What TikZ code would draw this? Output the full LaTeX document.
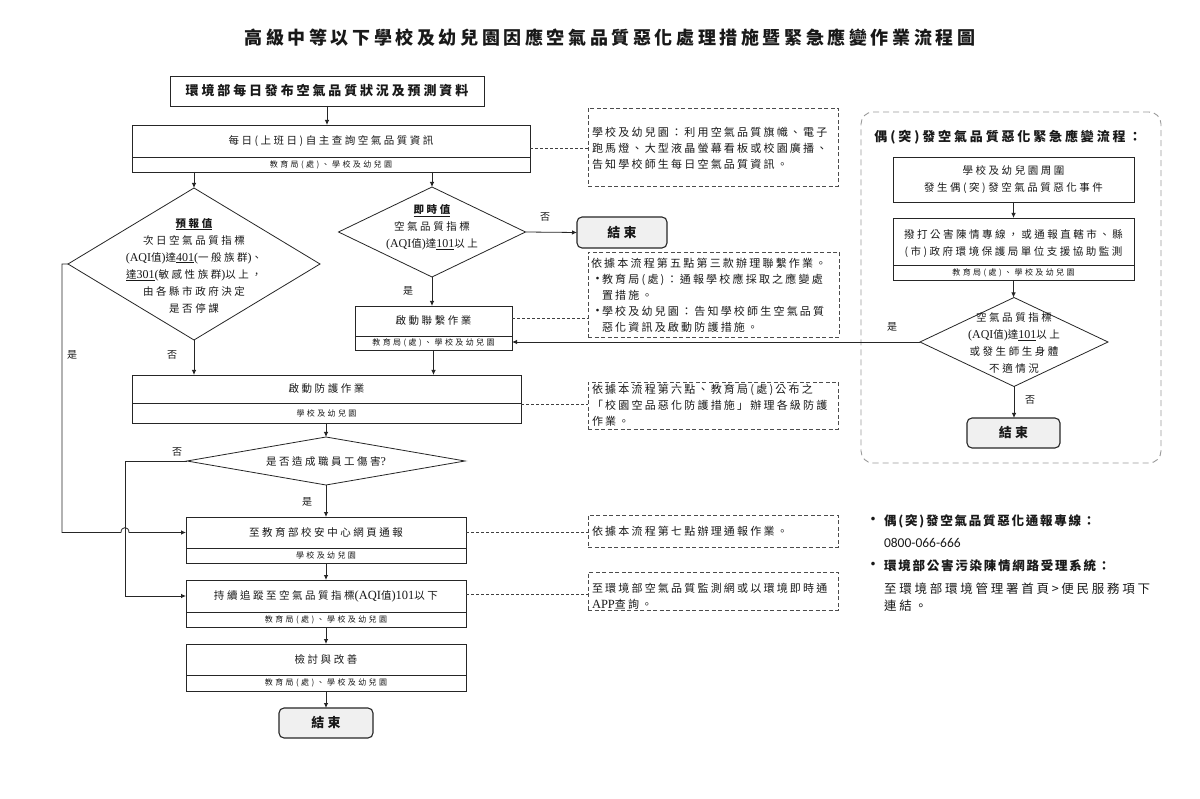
\documentclass[tikz,border=0pt]{standalone}
\usepackage{fontspec}
\setmainfont{Noto Sans CJK TC}
\newfontfamily\lsMain[LetterSpace=24]{Noto Sans CJK TC}
\newfontfamily\lsSub[LetterSpace=30]{Noto Sans CJK TC}
\newfontfamily\lsNote[LetterSpace=20]{Noto Sans CJK TC}
\newfontfamily\lsTitle[LetterSpace=20]{Noto Sans CJK TC}
\newfontfamily\lsInfo[LetterSpace=22]{Noto Sans CJK TC}
\newfontfamily\lsHead[LetterSpace=14]{Noto Sans CJK TC}
\newfontfamily\latinCal{Carlito}
\newfontfamily\tnr{Liberation Serif}
\usetikzlibrary{arrows.meta,shapes.geometric}
\newcommand\fMain{\lsMain\fontsize{10.5}{17}\selectfont}
\newcommand\fSub{\lsSub\fontsize{8}{10}\selectfont}
\newcommand\fNote{\lsNote\fontsize{11}{16}\selectfont}
\newcommand\fTitle{\lsTitle\bfseries\fontsize{18}{22}\selectfont}
\newcommand\fBig{\lsInfo\bfseries\fontsize{13}{16}\selectfont}
\newcommand\fHead{\lsHead\bfseries\fontsize{12.5}{16}\selectfont}
\newcommand\fInfo{\lsInfo\fontsize{12.5}{17}\selectfont}
\newcommand\fEnd{\lsMain\bfseries\fontsize{13}{16}\selectfont}
\newcommand\fLbl{\lsMain\fontsize{10}{12}\selectfont}
\newcommand\La[1]{{\tnr\fontsize{12}{17}\selectfont #1}}
\newcommand\Lb[1]{{\tnr\fontsize{12.5}{16}\selectfont #1}}
\tikzset{
  every node/.style={inner sep=0pt, outer sep=0pt, text=black!90},
  proc/.style={draw=black!85, line width=0.8pt, rectangle},
  dia/.style={draw=black!85, line width=0.8pt, diamond},
  endbox/.style={draw=black!85, line width=1.1pt, rounded corners=5pt, fill=gray!12, font=\fEnd},
  notebox/.style={draw=black!70, line width=0.7pt, dash pattern=on 4pt off 2.5pt},
  mt/.style={font=\fMain, align=center},
  st/.style={font=\fSub},
  nt/.style={font=\fNote, align=left, anchor=west},
  arr/.style={draw=black!85, line width=0.8pt, -{Latex[length=5pt,width=4.5pt]}},
  link/.style={draw=black!75, line width=0.7pt, dash pattern=on 3pt off 2pt},
  divl/.style={draw=black!85, line width=0.6pt},
  lbl/.style={font=\fLbl},
}
% name, left, top, right, bottom, divider y, main y, main text, sub text
\newcommand\PBox[9]{%
  \node[proc, minimum width={#4pt-#2pt}, minimum height={#5pt-#3pt}] (#1) at ({(#2+#4)/2},{(#3+#5)/2}) {};
  \draw[divl] (#2,#6) -- (#4,#6);
  \node[mt] (#1-m) at ({(#2+#4)/2},#7) {#8};
  \node[st] (#1-s) at ({(#2+#4)/2},{(#6+#5)/2}) {#9};
}
\begin{document}
\begin{tikzpicture}[x=1pt,y=-1pt]
\useasboundingbox (0,0) rectangle (1200,799);
\fill[white] (0,0) rectangle (1200,799);

\node[font=\fTitle] (title) at (610,38) {高級中等以下學校及幼兒園因應空氣品質惡化處理措施暨緊急應變作業流程圖};

% right panel frame
\node[draw=gray!80, line width=0.9pt, dash pattern=on 6pt off 4pt, rounded corners=12pt, minimum width=300pt, minimum height=351pt] (panel) at (1011,287.5) {};

% main flow
\node[proc, minimum width=314pt, minimum height=30pt, font=\fBig] (b1) at (327,91) {環境部每日發布空氣品質狀況及預測資料};
\PBox{b2}{132}{125}{530}{172}{157}{141}{每日(上班日)自主查詢空氣品質資訊}{教育局(處)、學校及幼兒園}

\node[dia, minimum width=252pt, minimum height=152pt] (ld) at (194,264) {};
\node[mt] (ldt) at (194,265.5) {{\bfseries\underline{預報值}}\\次日空氣品質指標\\\La{(AQI}值\La{)}達\underline{\La{401}}\La{(}一般族群\La{)}、\\\underline{達\La{301}}\La{(}敏感性族群\La{)}以上，\\由各縣市政府決定\\是否停課};

\node[dia, minimum width=187pt, minimum height=90pt] (md) at (432,232) {};
\node[mt] (mdt) at (432,227.5) {{\bfseries\underline{即時值}}\\空氣品質指標\\\La{(AQI}值\La{)}達\underline{\La{101}}以上};

\node[endbox, minimum width=90pt, minimum height=31pt] (e1) at (622,232.5) {結束};

\PBox{lian}{355}{306}{512}{350}{336}{321}{啟動聯繫作業}{教育局(處)、學校及幼兒園}
\PBox{prot}{132}{375}{521}{423}{403}{389}{啟動防護作業}{學校及幼兒園}

\node[dia, minimum width=278pt, minimum height=48pt] (d3) at (326,461) {};
\node[mt] (d3t) at (326,462) {是否造成職員工傷害\La{?}};

\PBox{rep}{186}{517}{466}{563}{548}{532.5}{至教育部校安中心網頁通報}{學校及幼兒園}
\PBox{track}{186}{580}{466}{627}{612}{596}{持續追蹤至空氣品質指標\Lb{(AQI}值\Lb{)101}以下}{教育局(處)、學校及幼兒園}
\PBox{rev}{186}{644}{466}{691}{675}{659.5}{檢討與改善}{教育局(處)、學校及幼兒園}
\node[endbox, minimum width=94pt, minimum height=30pt] (e2) at (326,723) {結束};

% notes
\node[notebox, minimum width=250pt, minimum height=78pt] (n1) at (713,147) {};
\node[nt] (n1t) at (592,148) {學校及幼兒園：利用空氣品質旗幟、電子\\跑馬燈、大型液晶螢幕看板或校園廣播、\\告知學校師生每日空氣品質資訊。};
\node[notebox, minimum width=251pt, minimum height=85pt] (n2) at (713.5,294.5) {};
\node[nt] (n2t) at (591,295) {依據本流程第五點第三款辦理聯繫作業。\\\makebox[11pt][l]{\fontsize{13}{16}\selectfont•}教育局(處)：通報學校應採取之應變處\\\hspace*{11pt}置措施。\\\makebox[11pt][l]{\fontsize{13}{16}\selectfont•}學校及幼兒園：告知學校師生空氣品質\\\hspace*{11pt}惡化資訊及啟動防護措施。};
\node[notebox, minimum width=250pt, minimum height=47pt] (n3) at (713,405.5) {};
\node[nt] (n3t) at (592,405) {依據本流程第六點、教育局(處)公布之\\「校園空品惡化防護措施」辦理各級防護\\作業。};
\node[notebox, minimum width=250pt, minimum height=32pt] (n4) at (713,531) {};
\node[nt] (n4t) at (592,531) {依據本流程第七點辦理通報作業。};
\node[notebox, minimum width=250pt, minimum height=38pt] (n5) at (713,591) {};
\node[nt] (n5t) at (592,596) {至環境部空氣品質監測網或以環境即時通\\\Lb{APP}查詢。};

% right panel contents
\node[font=\fBig] (rtitle) at (1008,137) {偶(突)發空氣品質惡化緊急應變流程：};
\node[proc, minimum width=241pt, minimum height=45pt] (r1) at (1013.5,179.5) {};
\node[mt] (r1t) at (1013.5,179.5) {學校及幼兒園周圍\\發生偶(突)發空氣品質惡化事件};
\PBox{r2}{893}{218}{1134}{280}{265}{243.5}{撥打公害陳情專線，或通報直轄市、縣\\(市)政府環境保護局單位支援協助監測}{教育局(處)、學校及幼兒園}
\node[dia, minimum width=188pt, minimum height=89pt] (rd) at (1014,342) {};
\node[mt] (rdt) at (1014,343.5) {空氣品質指標\\\La{(AQI}值\La{)}達\underline{\La{101}}以上\\或發生師生身體\\不適情況};
\node[endbox, minimum width=93pt, minimum height=30pt] (e3) at (1013.5,433) {結束};

% info text
\node[font=\fontsize{17}{17}\selectfont] (bul1) at (873,521) {•};
\node[font=\fHead, anchor=west] (inf1) at (884,521) {偶(突)發空氣品質惡化通報專線：};
\node[font=\latinCal\fontsize{13.5}{15}\selectfont, anchor=west] (inf2) at (884,543) {0800-066-666};
\node[font=\fontsize{17}{17}\selectfont] (bul2) at (873,566) {•};
\node[font=\fHead, anchor=west] (inf3) at (884,566) {環境部公害污染陳情網路受理系統：};
\node[font=\fInfo, anchor=west, align=left] (inf4) at (884,597.5) {至環境部環境管理署首頁>便民服務項下\\連結。};

% coordinates
\coordinate (yrep) at (0,532.5);
\coordinate (ytrack) at (0,596);
\coordinate (xl) at (62,0);
\coordinate (xh) at (125,0);
\coordinate (ylian) at (0,318);
\coordinate (yprot) at (0,404);
\coordinate (ytl) at (0,594);

% connectors
\draw[arr] (b1.south) -- (b1.south |- b2.north);
\draw[arr] (ld.north |- b2.south) -- (ld.north);
\draw[arr] (md.north |- b2.south) -- (md.north);
\draw[arr] (md.east) -- (e1.west);
\node[lbl] (l1) at (545,217) {否};
\draw[arr] (md.south) -- (md.south |- lian.north);
\node[lbl] (l2) at (408,291) {是};
\draw[arr] (ld.south) -- (ld.south |- prot.north);
\node[lbl] (l3) at (172,355) {否};
\draw[arr] (ld.west) -| (xl |- yrep) -- (121,532.5) .. controls (121,526) and (129,526) .. (129,532.5) -- (rep.west |- yrep);
\node[lbl] (l4) at (72,355) {是};
\draw[arr] (lian.south) -- (lian.south |- prot.north);
\draw[arr] (d3.north |- prot.south) -- (d3.north);
\draw[arr] (d3.south) -- (d3.south |- rep.north);
\node[lbl] (l5) at (307,502) {是};
\draw[arr] (d3.west) -| (xh |- ytrack) -- (track.west |- ytrack);
\node[lbl] (l6) at (177,452) {否};
\draw[arr] (rep.south) -- (rep.south |- track.north);
\draw[arr] (track.south) -- (track.south |- rev.north);
\draw[arr] (rev.south) -- (rev.south |- e2.north);
\draw[arr] (r1.south) -- (r1.south |- r2.north);
\draw[arr] (r2.south) -- (r2.south |- rd.north);
\draw[arr] (rd.south) -- (rd.south |- e3.north);
\node[lbl] (l7) at (1030,400) {否};
\draw[arr] (rd.west) -- (rd.west -| lian.east);
\node[lbl] (l8) at (892,327) {是};

% dashed links
\draw[link] (b2.east) -- (b2.east -| n1.west);
\draw[link] (lian.east |- ylian) -- (n2.west |- ylian);
\draw[link] (prot.east |- yprot) -- (n3.west |- yprot);
\draw[link] (rep.east |- yrep) -- (n4.west |- yrep);
\draw[link] (track.east |- ytl) -- (n5.west |- ytl);
\end{tikzpicture}
\end{document}
